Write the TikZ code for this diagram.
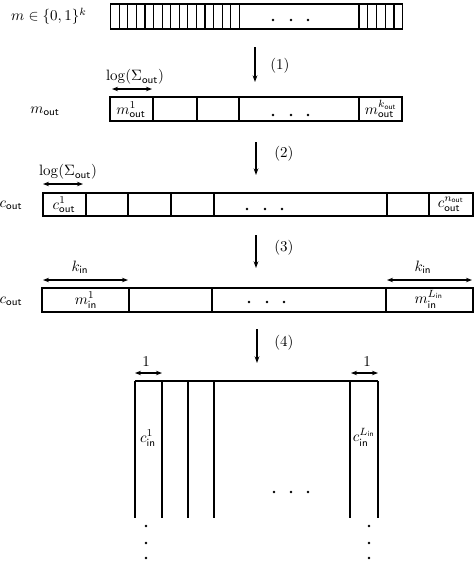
\documentclass[tikz,border=0pt]{standalone}
\usetikzlibrary{arrows.meta}
\begin{document}
\begin{tikzpicture}[x=0.6667pt,y=-0.6667pt,line width=0.8pt,
  lbl/.style={inner sep=0pt},
  down/.style={-{Stealth[length=4.5pt,width=3.2pt]}},
  span/.style={{Stealth[length=4pt,width=3pt]}-{Stealth[length=4pt,width=3pt]}},
  dot/.style={fill=black}]
\useasboundingbox (0,0) rectangle (476,562);
% ---- row 1
\node[lbl] (lm) at (49,16) {$m\in\{0,1\}^k$};
\draw (110.7,4) rectangle (402.7,29);
\foreach \i in {1,...,15} \draw (110.7+8.573*\i,4) -- (110.7+8.573*\i,29);
\foreach \i in {0,...,4} \draw (359+8.74*\i,4) -- (359+8.74*\i,29);
\foreach \x in {273,291,308} \fill[dot] (\x,20) circle (1.4);
% arrow 1
\coordinate (a1s) at (255,47); \coordinate (a1e) at (255,82);
\draw[down] (a1s) -- (a1e);
\node[lbl] (t1) at (280,66) {$(1)$};
% ---- row 2
\node[lbl] (lg1) at (135,77) {$\log(\Sigma_{\mathsf{out}})$};
\coordinate (s1a) at (112,89); \coordinate (s1b) at (152,89);
\draw[span] (s1a) -- (s1b);
\node[lbl] (lmo) at (45,111) {$m_{\mathsf{out}}$};
\draw (110,97) rectangle (402,121);
\foreach \x in {153,197,239,359} \draw (\x,97) -- (\x,121);
\node[lbl] (mo1) at (131,110) {$m_{\mathsf{out}}^1$};
\node[lbl] (mok) at (381,109) {$m_{\mathsf{out}}^{k_{\mathsf{out}}}$};
\foreach \x in {273,291,308} \fill[dot] (\x,115) circle (1.4);
% arrow 2
\coordinate (a2s) at (256,142); \coordinate (a2e) at (256,175);
\draw[down] (a2s) -- (a2e);
\node[lbl] (t2) at (284,154) {$(2)$};
% ---- row 3
\node[lbl] (lg2) at (68,172) {$\log(\Sigma_{\mathsf{out}})$};
\coordinate (s2a) at (43,184); \coordinate (s2b) at (83,184);
\draw[span] (s2a) -- (s2b);
\node[lbl] (lco1) at (11,205) {$c_{\mathsf{out}}$};
\draw (43,193) rectangle (473,216);
\foreach \x in {86,128,171,214,387,429} \draw (\x,193) -- (\x,216);
\node[lbl] (co1) at (64,205) {$c_{\mathsf{out}}^1$};
\node[lbl] (con) at (451,204) {$c_{\mathsf{out}}^{n_{\mathsf{out}}}$};
\foreach \x in {247,265,282} \fill[dot] (\x,209) circle (1.4);
% arrow 3
\coordinate (a3s) at (256,235); \coordinate (a3e) at (256,268);
\draw[down] (a3s) -- (a3e);
\node[lbl] (t3) at (284,248) {$(3)$};
% ---- row 4
\node[lbl] (kl) at (80,267) {$k_{\mathsf{in}}$};
\coordinate (k1a) at (43,280); \coordinate (k1b) at (128,280);
\draw[span] (k1a) -- (k1b);
\node[lbl] (kr) at (423,267) {$k_{\mathsf{in}}$};
\coordinate (k2a) at (387,280); \coordinate (k2b) at (472,280);
\draw[span] (k2a) -- (k2b);
\node[lbl] (lco2) at (11,301) {$c_{\mathsf{out}}$};
\draw (42,288) rectangle (473,312);
\foreach \x in {129,212,386} \draw (\x,288) -- (\x,312);
\node[lbl] (mi1) at (86,300) {$m_{\mathsf{in}}^1$};
\node[lbl] (mil) at (429,299) {$m_{\mathsf{in}}^{L_{\mathsf{in}}}$};
\foreach \x in {249,267,284} \fill[dot] (\x,302) circle (1.4);
% arrow 4
\coordinate (a4s) at (257,329); \coordinate (a4e) at (257,363);
\draw[down] (a4s) -- (a4e);
\node[lbl] (t4) at (284,343) {$(4)$};
% ---- row 5
\node[lbl] (o1) at (146,362) {$1$};
\coordinate (o1a) at (135,373); \coordinate (o1b) at (162,373);
\draw[span] (o1a) -- (o1b);
\node[lbl] (o2) at (367,362) {$1$};
\coordinate (o2a) at (351,373); \coordinate (o2b) at (378,373);
\draw[span] (o2a) -- (o2b);
\draw (135,381) -- (378,381);
\foreach \x in {135,162,188,214,350,378} \draw (\x,381) -- (\x,518);
\node[lbl] (ci1) at (148,438) {$c_{\mathsf{in}}^1$};
\node[lbl] (cil) at (364,437) {$c_{\mathsf{in}}^{L_{\mathsf{in}}}$};
\foreach \x in {274,291,308} \fill[dot] (\x,492) circle (1.4);
\foreach \y in {526,543,558} {\fill[dot] (146,\y) circle (1.4); \fill[dot] (369,\y) circle (1.4);}
\end{tikzpicture}
\end{document}
